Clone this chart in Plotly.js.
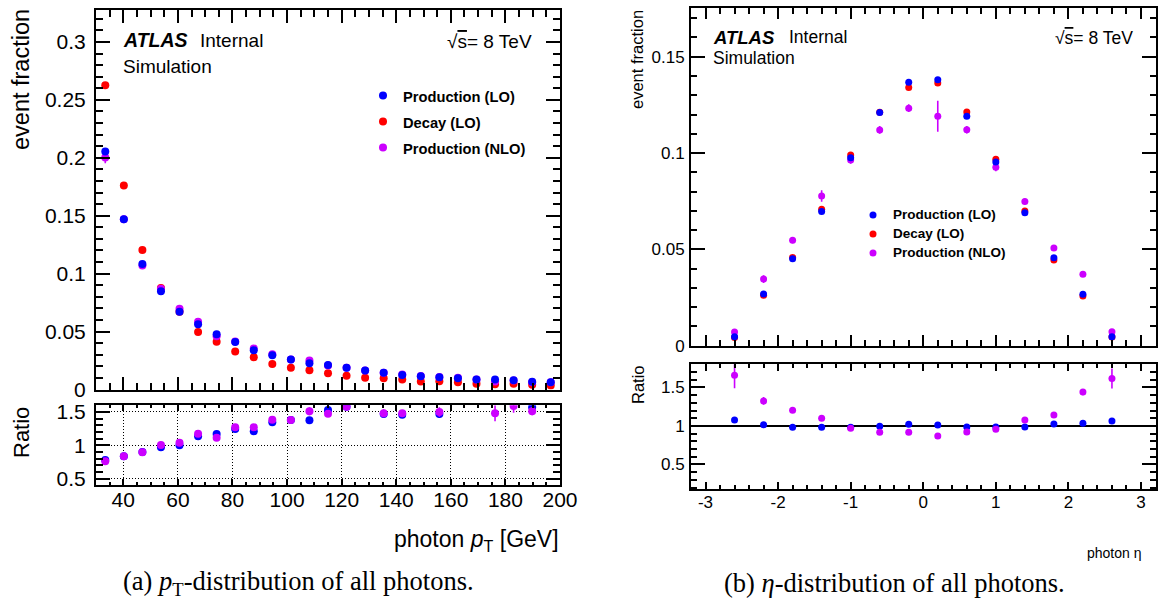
<!DOCTYPE html>
<html>
<head>
<meta charset="utf-8">
<script src="https://cdn.plot.ly/plotly-3.0.1.min.js"></script>
<style>html,body{margin:0;padding:0;background:#fff;} #chart{width:1161px;height:603px;}</style>
</head>
<body>
<div id="chart"></div>
<script>
// ---------------- data: photon pT ----------------
const ptBins = [33.4, 40.2, 47, 53.8, 60.6, 67.4, 74.2, 81, 87.8, 94.6, 101.4, 108.2, 115, 121.8, 128.6, 135.4, 142.2, 149, 155.8, 162.6, 169.4, 176.2, 183, 189.8, 196.6];
const ptProdLO = [0.2055, 0.147, 0.1083, 0.0848, 0.0672, 0.0563, 0.0477, 0.0411, 0.0339, 0.0296, 0.0259, 0.0227, 0.0211, 0.0187, 0.0164, 0.0144, 0.0126, 0.0115, 0.0106, 0.0098, 0.0086, 0.0086, 0.0080, 0.0066, 0.0063];
const ptDecayLO = [0.2627, 0.176, 0.1204, 0.0876, 0.0672, 0.0497, 0.0412, 0.0328, 0.0278, 0.022, 0.0188, 0.0166, 0.014, 0.0118, 0.0101, 0.0098, 0.0087, 0.0069, 0.0072, 0.0063, 0.0049, 0.0046, 0.0049, 0.0042, 0.0034];
const ptProdNLO = [0.2003, 0.147, 0.107, 0.087, 0.0697, 0.0584, 0.046, 0.0415, 0.0353, 0.0305, 0.026, 0.025, 0.0207, 0.0187, 0.0165, 0.0145, 0.0129, 0.0116, 0.0108, 0.0101, 0.0086, 0.0068, 0.0078, 0.0063, 0.0062];
const ptProdLOErr = [0.0015, 0.001, 0.001, 0.001, 0.0008, 0.0008, 0.0007, 0.0007, 0.0006, 0.0006, 0.0005, 0.0005, 0.0005, 0.0005, 0.0004, 0.0004, 0.0004, 0.0004, 0.0004, 0.0003, 0.0003, 0.0003, 0.0003, 0.0003, 0.0003];
const ptProdNLOErr = [0.005, 0.003, 0.002, 0.0015, 0.0012, 0.001, 0.001, 0.001, 0.0009, 0.0008, 0.0008, 0.0008, 0.0007, 0.0007, 0.0006, 0.0006, 0.0006, 0.0005, 0.0005, 0.0005, 0.0005, 0.0005, 0.0005, 0.0004, 0.0004];
const ptRatioProdLO = [0.78, 0.835, 0.90, 0.97, 1.0, 1.135, 1.17, 1.245, 1.21, 1.345, 1.38, 1.375, 1.53, 1.58, null, 1.47, 1.46, null, 1.47, null, null, null, null, 1.57, null];
const ptRatioProdLOErr = [0.01, 0.01, 0.01, 0.01, 0.01, 0.015, 0.015, 0.02, 0.02, 0.025, 0.025, 0.03, 0.04, 0.04, 0, 0.05, 0.05, 0, 0.06, 0, 0, 0, 0, 0.05, 0];
const ptRatioProdNLO = [0.76, 0.835, 0.895, 1.005, 1.04, 1.175, 1.115, 1.27, 1.27, 1.385, 1.38, 1.51, 1.475, 1.58, null, 1.48, 1.48, null, 1.5, null, null, 1.48, 1.59, 1.51, null];
const ptRatioProdNLOErr = [0.02, 0.01, 0.01, 0.01, 0.01, 0.015, 0.015, 0.02, 0.02, 0.025, 0.025, 0.06, 0.04, 0.04, 0, 0.06, 0.05, 0, 0.07, 0, 0, 0.12, 0.1, 0.06, 0];

// ---------------- data: photon eta ----------------
const etaBins = [-2.6, -2.2, -1.8, -1.4, -1.0, -0.6, -0.2, 0.2, 0.6, 1.0, 1.4, 1.8, 2.2, 2.6];
const etaProdLO = [0.0046, 0.0268, 0.0452, 0.0696, 0.0976, 0.121, 0.1367, 0.138, 0.1191, 0.0953, 0.069, 0.0457, 0.0267, 0.0047];
const etaDecayLO = [0.0043, 0.0262, 0.0458, 0.0708, 0.099, 0.1212, 0.134, 0.1364, 0.1213, 0.0968, 0.0699, 0.0445, 0.0258, 0.0045];
const etaProdNLO = [0.0071, 0.0346, 0.0547, 0.0777, 0.0964, 0.112, 0.1233, 0.1191, 0.1121, 0.0926, 0.0748, 0.0507, 0.0371, 0.0073];
const etaProdLOErr = [0.0005, 0.0008, 0.001, 0.001, 0.001, 0.001, 0.001, 0.001, 0.001, 0.001, 0.001, 0.001, 0.0008, 0.0005];
const etaProdNLOErr = [0.001, 0.002, 0.0015, 0.003, 0.002, 0.002, 0.002, 0.008, 0.002, 0.002, 0.0015, 0.0015, 0.0015, 0.001];
const etaRatioProdLO = [1.078, 1.017, 0.983, 0.983, 0.983, 0.996, 1.022, 1.013, 0.987, 0.987, 0.987, 1.026, 1.035, 1.065];
const etaRatioProdLOErr = [0.03, 0.015, 0.01, 0.01, 0.01, 0.01, 0.01, 0.01, 0.01, 0.01, 0.01, 0.01, 0.015, 0.03];
const etaRatioProdNLO = [1.658, 1.325, 1.203, 1.10, 0.97, 0.918, 0.918, 0.87, 0.922, 0.957, 1.078, 1.143, 1.44, 1.615];
const etaRatioProdNLOErr = [0.17, 0.05, 0.02, 0.02, 0.015, 0.015, 0.015, 0.03, 0.015, 0.015, 0.02, 0.02, 0.04, 0.13];

// tick labels of the eta axis (hyphen minus, as in the reference)
const etaTickVals = [-3, -2, -1, 0, 1, 2, 3];
const etaTickText = ['-3', '-2', '-1', '0', '1', '2', '3'];

const seriesNames = ['Production (LO)', 'Decay (LO)', 'Production (NLO)'];
const seriesColors = ['#0000ff', '#ff0000', '#cc00ff'];

// ---------------- helpers ----------------
const W = 1161, H = 603;
const FONT = "'Liberation Sans', Arial, Helvetica, sans-serif";
const SERIF = "'Liberation Serif', 'Times New Roman', serif";
const px = v => v / W;
const py = v => 1 - v / H;

function pts(x, y, err, color, size, xa, ya, name, legend, rank, showlegend, lsize) {
  return {
    type: 'scatter', mode: 'markers', x: x, y: y,
    xaxis: xa, yaxis: ya,
    name: '<span style="font-size:' + lsize + 'px">' + name + '</span>',
    legend: legend, legendrank: rank, showlegend: showlegend,
    marker: {color: color, size: size, line: {width: 0}},
    error_y: {type: 'data', array: err, visible: true, color: color, thickness: 1.6, width: 0},
    cliponaxis: true, hoverinfo: 'x+y'
  };
}

function axis(o) {
  const a = {
    showline: true, linecolor: '#000', linewidth: 2, mirror: 'ticks',
    ticks: 'inside', tickcolor: '#000', tickwidth: 2,
    zeroline: false, showgrid: false, fixedrange: true,
    tickfont: {family: FONT, size: 21, color: '#000'}
  };
  return Object.assign(a, o);
}

const traces = [
  // left main: decay, NLO, LO (drawing order)
  pts(ptBins, ptDecayLO, null, seriesColors[1], 8, 'x', 'y', seriesNames[1], 'legend', 2, true, 14.7),
  pts(ptBins, ptProdNLO, ptProdNLOErr, seriesColors[2], 8, 'x', 'y', seriesNames[2], 'legend', 3, true, 14.7),
  pts(ptBins, ptProdLO, ptProdLOErr, seriesColors[0], 8, 'x', 'y', seriesNames[0], 'legend', 1, true, 14.7),
  // left ratio
  pts(ptBins, ptRatioProdLO, ptRatioProdLOErr, seriesColors[0], 8, 'x2', 'y2', seriesNames[0], 'legend', 4, false, 14.7),
  pts(ptBins, ptRatioProdNLO, ptRatioProdNLOErr, seriesColors[2], 8, 'x2', 'y2', seriesNames[2], 'legend', 5, false, 14.7),
  // right main
  pts(etaBins, etaDecayLO, null, seriesColors[1], 7, 'x3', 'y3', seriesNames[1], 'legend2', 2, true, 13.5),
  pts(etaBins, etaProdNLO, etaProdNLOErr, seriesColors[2], 7, 'x3', 'y3', seriesNames[2], 'legend2', 3, true, 13.5),
  pts(etaBins, etaProdLO, etaProdLOErr, seriesColors[0], 7, 'x3', 'y3', seriesNames[0], 'legend2', 1, true, 13.5),
  // right ratio
  pts(etaBins, etaRatioProdLO, etaRatioProdLOErr, seriesColors[0], 7, 'x4', 'y4', seriesNames[0], 'legend2', 4, false, 13.5),
  pts(etaBins, etaRatioProdNLO, etaRatioProdNLOErr, seriesColors[2], 7, 'x4', 'y4', seriesNames[2], 'legend2', 5, false, 13.5)
];

const leftX = [px(96), px(560)];
const rightX = [px(691), px(1155.5)];

function ann(text, x, y, size, o) {
  return Object.assign({
    text: text, x: px(x), y: py(y), xref: 'paper', yref: 'paper',
    showarrow: false, xanchor: 'left', yanchor: 'middle',
    font: {family: FONT, size: size, color: '#000'}
  }, o || {});
}

const layout = {
  width: W, height: H,
  margin: {l: 0, r: 0, t: 0, b: 0, pad: 0},
  paper_bgcolor: '#fff', plot_bgcolor: '#fff',
  showlegend: true,
  hovermode: false,
  // left pT panel
  xaxis: axis({domain: leftX, anchor: 'y', range: [30, 200], tick0: 0, dtick: 20, ticklen: 13,
    showticklabels: false, minor: {dtick: 5, ticklen: 7, tickwidth: 2, tickcolor: '#000', ticks: 'inside'}}),
  yaxis: axis({domain: [py(389.5), py(10)], anchor: 'x', range: [0, 0.3276], tick0: 0, dtick: 0.05, ticklen: 14,
    ticklabelstandoff: 4,
    minor: {dtick: 0.01, ticklen: 7, tickwidth: 2, tickcolor: '#000', ticks: 'inside'}}),
  xaxis2: axis({domain: leftX, anchor: 'y2', range: [30, 200], tick0: 0, dtick: 20, ticklen: 6,
    showgrid: true, gridcolor: '#000', gridwidth: 1, griddash: '1px,2px', ticklabelstandoff: -6,
    minor: {dtick: 5, ticklen: 3, tickwidth: 2, tickcolor: '#000', ticks: 'inside', showgrid: false}}),
  yaxis2: axis({domain: [py(485.3), py(405.3)], anchor: 'x2', range: [0.4, 1.6], tick0: 0, dtick: 0.5, ticklen: 14,
    showgrid: true, gridcolor: '#000', gridwidth: 1, griddash: '1px,2px', ticklabelstandoff: 4,
    minor: {dtick: 0.1, ticklen: 7, tickwidth: 2, tickcolor: '#000', ticks: 'inside', showgrid: false}}),
  // right eta panel
  xaxis3: axis({domain: rightX, anchor: 'y3', range: [-3.2, 3.2], tick0: 0, dtick: 1, ticklen: 11,
    showticklabels: false, minor: {dtick: 0.2, ticklen: 6, tickwidth: 2, tickcolor: '#000', ticks: 'inside'}}),
  yaxis3: axis({domain: [py(345.7), py(8)], anchor: 'x3', range: [0, 0.1753], tick0: 0, dtick: 0.05, ticklen: 14,
    tickfont: {family: FONT, size: 17, color: '#000'}, ticklabelstandoff: 1,
    minor: {dtick: 0.01, ticklen: 6, tickwidth: 2, tickcolor: '#000', ticks: 'inside'}}),
  xaxis4: axis({domain: rightX, anchor: 'y4', range: [-3.2, 3.2], tickmode: 'array',
    tickvals: etaTickVals, ticktext: etaTickText, ticklen: 7,
    tickfont: {family: FONT, size: 17, color: '#000'}, ticklabelstandoff: -3,
    minor: {tickmode: 'linear', tick0: 0, dtick: 0.2, ticklen: 4, tickwidth: 2, tickcolor: '#000', ticks: 'inside'}}),
  yaxis4: axis({domain: [py(489), py(364.3)], anchor: 'x4', range: [0.182, 1.80], tick0: 0, dtick: 0.5, ticklen: 14,
    tickfont: {family: FONT, size: 17, color: '#000'}, ticklabelstandoff: 1,
    minor: {dtick: 0.1, ticklen: 6, tickwidth: 2, tickcolor: '#000', ticks: 'inside'}}),
  legend: {x: px(363), y: py(77.5), xanchor: 'left', yanchor: 'top', bgcolor: 'rgba(0,0,0,0)',
    borderwidth: 0, traceorder: 'normal',
    font: {family: FONT, size: 17.7, color: '#000', weight: 'bold'}},
  legend2: {x: px(853), y: py(200.5), xanchor: 'left', yanchor: 'top', bgcolor: 'rgba(0,0,0,0)',
    borderwidth: 0, traceorder: 'normal',
    font: {family: FONT, size: 10, color: '#000', weight: 'bold'}},
  shapes: [
    {type: 'line', xref: 'x4 domain', yref: 'y4', x0: 0, x1: 1, y0: 1, y1: 1,
     line: {color: '#000', width: 2}, layer: 'below'}
  ],
  annotations: [
    // left
    ann('event fraction', 21, 80, 23.5, {textangle: -90, xanchor: 'center'}),
    ann('Ratio', 22, 433, 22, {textangle: -90, xanchor: 'center'}),
    ann('<b><i>ATLAS</i></b>', 121, 40, 19.5),
    ann('Internal', 198, 40, 19),
    ann('Simulation', 121, 66.5, 19),
    ann('√<span style="text-decoration:overline">s</span>= 8 TeV', 534, 41.5, 19, {xanchor: 'right'}),
    ann('photon <i>p</i><sub>T</sub> [GeV]', 561, 540, 23, {xanchor: 'right'}),
    ann('(a) <i>p</i><sub>T</sub>-distribution of all photons.', 298, 583, 26.5, {xanchor: 'center', font: {family: SERIF, size: 26.5, color: '#000'}}),
    // right
    ann('event fraction', 637, 60, 16.5, {textangle: -90, xanchor: 'center'}),
    ann('Ratio', 638, 385, 16.5, {textangle: -90, xanchor: 'center'}),
    ann('<b><i>ATLAS</i></b>', 711, 37, 18.5),
    ann('Internal', 787, 37, 17.5),
    ann('Simulation', 710.5, 58.5, 17.5),
    ann('√<span style="text-decoration:overline">s</span>= 8 TeV', 1135, 37.5, 17.5, {xanchor: 'right'}),
    ann('photon η', 1144, 553, 14, {xanchor: 'right'}),
    ann('(b) <i>η</i>-distribution of all photons.', 895, 583, 26.5, {xanchor: 'center', font: {family: SERIF, size: 26.5, color: '#000'}})
  ]
};

Plotly.newPlot('chart', traces, layout, {staticPlot: true, displayModeBar: false});
</script>
</body>
</html>
